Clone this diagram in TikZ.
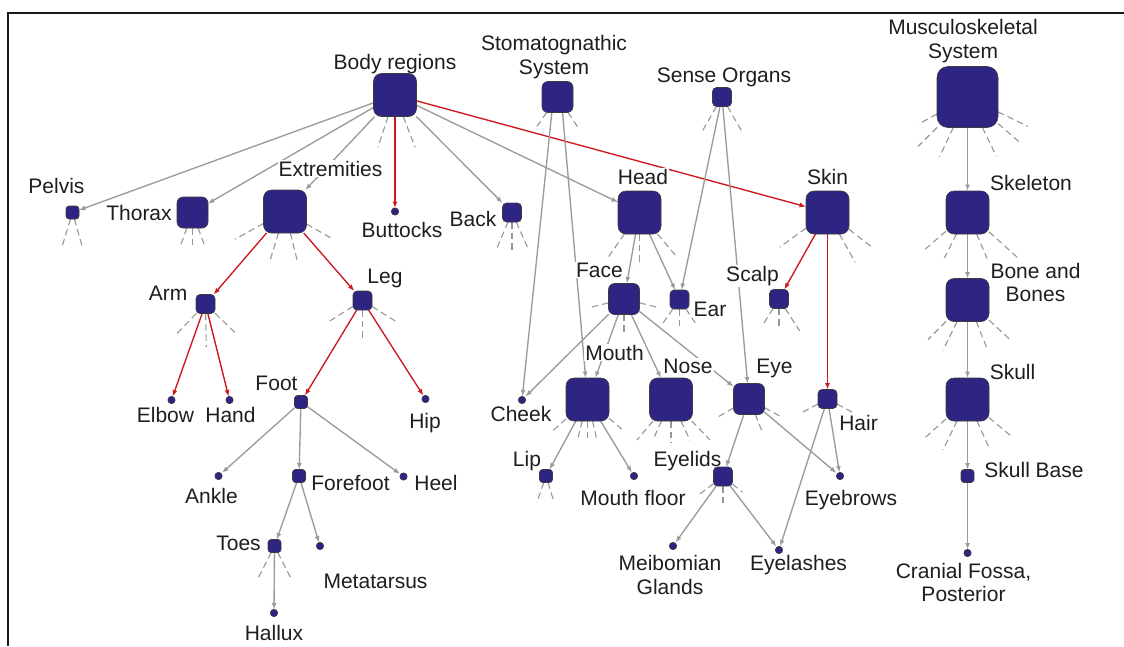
\documentclass[tikz,border=0pt]{standalone}
\usepackage{fontspec}
\setmainfont{Liberation Sans}
\usetikzlibrary{arrows.meta,calc}
\pgfdeclarelayer{fore}
\pgfsetlayers{main,fore}
\definecolor{navy}{RGB}{46,36,130}
\definecolor{boxline}{RGB}{60,60,60}
\definecolor{edgegray}{RGB}{155,155,155}
\definecolor{edgered}{RGB}{205,25,30}
\definecolor{stubgray}{RGB}{150,150,150}
\definecolor{txt}{RGB}{30,30,30}
\definecolor{framecol}{RGB}{25,25,25}
\tikzset{
  box/.style={draw=boxline, fill=navy, line width=0.6pt, inner sep=0pt, outer sep=0pt, rectangle},
  sA/.style={box, minimum size=7pt, rounded corners=3pt},
  sB/.style={box, minimum size=13pt, rounded corners=3pt},
  sC/.style={box, minimum size=19pt, rounded corners=4pt},
  sD/.style={box, minimum size=31pt, rounded corners=6pt},
  sE/.style={box, minimum size=43pt, rounded corners=8pt},
  sF/.style={box, minimum size=61pt, rounded corners=11pt},
  lab/.style={fill=white, inner sep=1pt, text=txt, anchor=base, align=center},
  ge/.style={draw=edgegray, line width=1.35pt, -{Latex[length=6.5pt,width=5pt]}},
  re/.style={ge, draw=edgered},
  stub/.style={draw=stubgray, line width=1.1pt, dash pattern=on 6.5pt off 4pt},
}
\newcommand{\stubs}[2]{\foreach \a/\r in {#2}{\draw[stub] (#1.\a) -- ($(#1.center)+(\a:\r)$);}}
\begin{document}
\begin{tikzpicture}[x=1pt,y=1pt,font=\fontsize{21}{23.5}\selectfont]
\useasboundingbox (0,0) rectangle (1124,-646);
\draw[framecol, line width=2pt] (7.5,-646) -- (7.5,-12.5) -- (1124,-12.5);

% shape nodes (on the front layer)
\begin{pgfonlayer}{fore}
\node[sE] (br)    at (395,-95) {};
\node[sD] (stoma) at (557.5,-97) {};
\node[sC] (sense) at (722,-97) {};
\node[sF] (musc)  at (967.5,-97) {};
\node[sB] (pel)   at (72.5,-212.5) {};
\node[sD] (tho)   at (192.5,-212.5) {};
\node[sE] (ext)   at (285,-211.5) {};
\node[sA] (but)   at (395,-211.5) {};
\node[sC] (bac)   at (512,-212.5) {};
\node[sE] (head)  at (639.5,-212.5) {};
\node[sE] (skin)  at (827.5,-212.5) {};
\node[sE] (skel)  at (967.5,-212.5) {};
\node[sC] (arm)   at (205.5,-304) {};
\node[sC] (leg)   at (362.5,-300.5) {};
\node[sD] (face)  at (624,-299) {};
\node[sC] (ear)   at (679.5,-299.5) {};
\node[sC] (scalp) at (779,-299) {};
\node[sE] (bone)  at (967.5,-300) {};
\node[sA] (elb)   at (171.5,-400) {};
\node[sA] (hand)  at (229.5,-400) {};
\node[sB] (foot)  at (301,-402) {};
\node[sA] (hip)   at (425.5,-399) {};
\node[sA] (cheek) at (522,-400) {};
\node[sE] (mouth) at (587.5,-399.5) {};
\node[sE] (nose)  at (671,-399.5) {};
\node[sD] (eye)   at (749,-399) {};
\node[sC] (hair)  at (827.5,-399) {};
\node[sE] (skull) at (967.5,-399.5) {};
\node[sA] (ank)   at (218.5,-476) {};
\node[sB] (fore)  at (299,-476) {};
\node[sA] (heel)  at (403.5,-476.5) {};
\node[sB] (lip)   at (546,-476) {};
\node[sA] (mfl)   at (634,-476) {};
\node[sC] (eyel)  at (723,-476.5) {};
\node[sA] (eyeb)  at (840,-476) {};
\node[sB] (skb)   at (967.5,-476) {};
\node[sB] (toes)  at (274.5,-546) {};
\node[sA] (meta)  at (320,-546) {};
\node[sA] (meib)  at (673,-546) {};
\node[sA] (lash)  at (779,-550) {};
\node[sA] (cran)  at (967.5,-553) {};
\node[sA] (hal)   at (274,-613) {};
\end{pgfonlayer}

% stubs
\stubs{pel}{-107/38,-74/38}
\stubs{tho}{-110/37,-90/35,-70/37}
\stubs{ext}{-151/57,-107/51,-76/50,-30/55}
\stubs{br}{-108/55,-69/56}
\stubs{stoma}{-125/38,-56/37}
\stubs{sense}{-120/40,-60/40}
\stubs{bac}{-113/41,-90/40,-66/41}
\stubs{head}{-125/55,-90/53,-50/58}
\stubs{musc}{-151/56,-135/70,-115/66,-64/66,-41/70,-26/67}
\stubs{skin}{-144/59,-61/57,-38/58}
\stubs{skel}{-139/57,-117/51,-67/50,-42/68}
\stubs{arm}{-134/41,-89/43,-44/41}
\stubs{leg}{-148/42,-90/38,-32/42}
\stubs{toes}{-117/36,-63/38}
\stubs{face}{-166/33,-14/34,-90/33}
\stubs{ear}{-125/29,-90/26,-56/28}
\stubs{scalp}{-122/32,-90/29,-57/38}
\stubs{mouth}{-138/46,-104/42,-90/42,-77/42,-41/47}
\stubs{nose}{-130/53,-114/44,-90/43,-65/45,-46/56}
\stubs{eye}{-150/36,-29/38,-68/36}
\stubs{hair}{-152/28,-28/28}
\stubs{lip}{-109/28,-73/27}
\stubs{eyel}{-143/31,-90/29,-39/25}
\stubs{bone}{-135/56,-116/56,-68/54,-43/58}
\stubs{skull}{-138/60,-116/56,-66/55,-40/59}

% edges
\draw[ge] (br) -- (pel);
\draw[ge] (br) -- (tho);
\draw[ge] (br) -- (ext);
\draw[re] (br) -- (but);
\draw[ge] (br) -- (bac);
\draw[ge] (br) -- (head);
\draw[re] (br) -- (skin);
\draw[re] (ext) -- (arm);
\draw[re] (ext) -- (leg);
\draw[re] (arm) -- (elb);
\draw[re] (arm) -- (hand);
\draw[re] (leg) -- (foot);
\draw[re] (leg) -- (hip);
\draw[ge] (foot) -- (ank);
\draw[ge] (foot) -- (fore);
\draw[ge] (foot) -- (heel);
\draw[ge] (fore) -- (toes);
\draw[ge] (fore) -- (meta);
\draw[ge] (toes) -- (hal);
\draw[ge] (stoma.-110) -- (cheek);
\draw[ge] (stoma.-72) -- (mouth);
\draw[ge] (head) -- (face);
\draw[ge] (head) -- (ear);
\draw[ge] (sense) -- (ear);
\draw[ge] (sense) -- (eye);
\draw[ge] (face) -- (cheek);
\draw[ge] (face) -- (mouth);
\draw[ge] (face) -- (nose);
\draw[ge] (face) -- (eye);
\draw[re] (skin) -- (scalp);
\draw[re] (skin) -- (hair);
\draw[ge] (mouth) -- (lip);
\draw[ge] (mouth) -- (mfl);
\draw[ge] (eye) -- (eyel);
\draw[ge] (eye) -- (eyeb);
\draw[ge] (hair) -- (eyeb);
\draw[ge] (hair) -- (lash);
\draw[ge] (eyel) -- (meib);
\draw[ge] (eyel) -- (lash);
\draw[ge] (musc) -- (skel);
\draw[ge] (skel) -- (bone);
\draw[ge] (bone) -- (skull);
\draw[ge] (skull) -- (skb);
\draw[ge] (skb) -- (cran);

% labels (multi-line labels: base = last line's baseline)
\node[lab] (lbr)    at (395,-69) {Body regions};
\node[lab] (lstoma) at (554,-74) {Stomatognathic\\System};
\node[lab] (lsense) at (724,-82) {Sense Organs};
\node[lab] (lmusc)  at (963,-58) {Musculoskeletal\\System};
\node[lab] (lpel)   at (56.5,-193) {Pelvis};
\node[lab] (ltho)   at (139,-220) {Thorax};
\node[lab] (lext)   at (330.5,-176) {Extremities};
\node[lab] (lbut)   at (402,-237) {Buttocks};
\node[lab] (lbac)   at (473,-226) {Back};
\node[lab] (lhead)  at (643,-184) {Head};
\node[lab] (lskin)  at (827.5,-184) {Skin};
\node[lab] (lskel)  at (1031,-190.5) {Skeleton};
\node[lab] (larm)   at (168,-300) {Arm};
\node[lab] (lleg)   at (385,-283) {Leg};
\node[lab] (lface)  at (599.5,-277) {Face};
\node[lab] (lear)   at (710,-316.5) {Ear};
\node[lab] (lscalp) at (752.5,-281.5) {Scalp};
\node[lab] (lbone)  at (1035.5,-301.5) {Bone and\\Bones};
\node[lab] (lelb)   at (165.5,-422.5) {Elbow};
\node[lab] (lhand)  at (230.5,-422.5) {Hand};
\node[lab] (lfoot)  at (276.5,-390) {Foot};
\node[lab] (lhip)   at (425,-428) {Hip};
\node[lab] (lcheek) at (521,-421.5) {Cheek};
\node[lab] (lmouth) at (614.5,-360) {Mouth};
\node[lab] (lnose)  at (688,-373) {Nose};
\node[lab] (leye)   at (774.5,-373) {Eye};
\node[lab] (lhair)  at (858.5,-430) {Hair};
\node[lab] (lskull) at (1012.5,-379) {Skull};
\node[lab] (lank)   at (211.5,-503) {Ankle};
\node[lab] (lfore)  at (350.5,-490.5) {Forefoot};
\node[lab] (lheel)  at (436,-490.5) {Heel};
\node[lab] (llip)   at (527,-466.5) {Lip};
\node[lab] (lmfl)   at (633,-505) {Mouth floor};
\node[lab] (leyel)  at (687.5,-466.5) {Eyelids};
\node[lab] (leyeb)  at (851,-505) {Eyebrows};
\node[lab] (lskb)   at (1034,-477.5) {Skull Base};
\node[lab] (ltoes)  at (238.5,-550) {Toes};
\node[lab] (lmeta)  at (375.5,-588) {Metatarsus};
\node[lab] (lmeib)  at (670,-594) {Meibomian\\Glands};
\node[lab] (llash)  at (798.5,-570.5) {Eyelashes};
\node[lab] (lcran)  at (963.5,-601.5) {Cranial Fossa,\\Posterior};
\node[lab] (lhal)   at (274,-640) {Hallux};
\end{tikzpicture}
\end{document}
